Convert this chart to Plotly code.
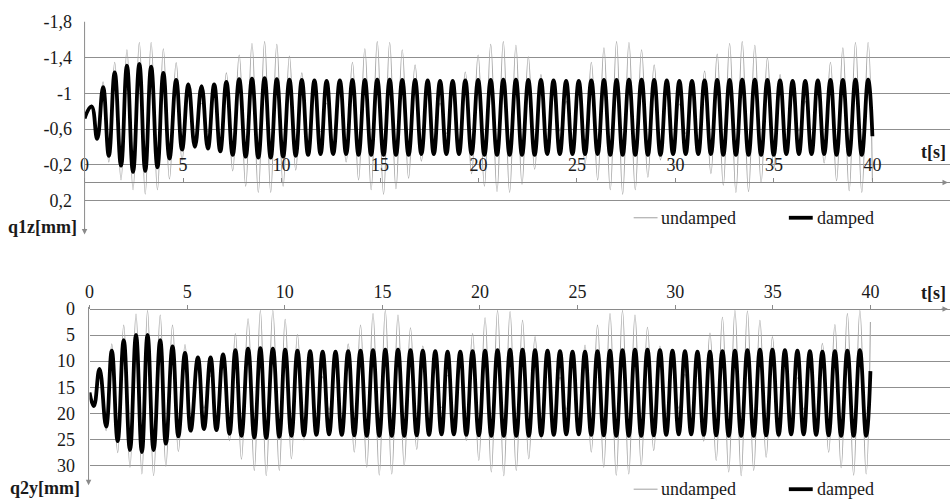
import plotly.graph_objects as go

W, H = 950, 499
SERIF = "Liberation Serif"

# ---------------------------------------------------------------------------
# q1z: turning points of the response (time [s], displacement [mm])
# ---------------------------------------------------------------------------
t_q1z = [
    0.00,
    0.35, 0.64, 0.94, 1.23, 1.53, 1.85, 2.15, 2.46, 2.78, 3.08,
    3.38, 3.70, 4.00, 4.31, 4.65, 4.95, 5.27, 5.60, 5.94, 6.26,
    6.58, 6.89, 7.20, 7.52, 7.85, 8.18, 8.50, 8.82, 9.14, 9.45,
    9.76, 10.08, 10.40, 10.72, 11.03, 11.35, 11.67, 11.98, 12.29, 12.62,
    12.96, 13.28, 13.60, 13.91, 14.23, 14.55, 14.86, 15.18, 15.49, 15.81,
    16.13, 16.45, 16.78, 17.10, 17.42, 17.73, 18.05, 18.37, 18.69, 19.01,
    19.33, 19.65, 19.98, 20.30, 20.62, 20.94, 21.26, 21.58, 21.90, 22.21,
    22.53, 22.85, 23.17, 23.49, 23.81, 24.13, 24.45, 24.77, 25.09, 25.41,
    25.73, 26.05, 26.37, 26.69, 27.01, 27.32, 27.64, 27.96, 28.28, 28.60,
    28.92, 29.24, 29.56, 29.88, 30.20, 30.52, 30.84, 31.16, 31.48, 31.80,
    32.12, 32.43, 32.75, 33.07, 33.39, 33.71, 34.03, 34.35, 34.67, 34.99,
    35.31, 35.63, 35.95, 36.27, 36.59, 36.91, 37.23, 37.55, 37.87, 38.18,
    38.50, 38.82, 39.14, 39.46,
    39.78, 40.00,
]

q1z_undamped = [
    -0.72,
    -0.86, -0.48, -1.13, -0.23, -1.35, -0.03, -1.49, 0.08, -1.57, 0.13,
    -1.57, 0.08, -1.50, -0.04, -1.345, -0.25, -1.12, -0.44, -0.89, -0.57,
    -1.015, -0.34, -1.23, -0.13, -1.43, 0.04, -1.56, 0.11, -1.58, 0.11,
    -1.55, 0.04, -1.42, -0.14, -1.23, -0.34, -1.01, -0.57, -0.89, -0.435,
    -1.13, -0.23, -1.35, -0.03, -1.50, 0.08, -1.58, 0.13, -1.57, 0.07,
    -1.49, -0.05, -1.32, -0.24, -1.11, -0.46, -0.89, -0.55, -1.03, -0.33,
    -1.24, -0.10, -1.43, 0.04, -1.55, 0.10, -1.58, 0.11, -1.54, 0.02,
    -1.41, -0.15, -1.21, -0.36, -0.98, -0.58, -0.91, -0.43, -1.13, -0.21,
    -1.35, -0.03, -1.51, 0.08, -1.58, 0.13, -1.57, 0.08, -1.49, -0.06,
    -1.32, -0.255, -1.10, -0.47, -0.88, -0.55, -1.03, -0.33, -1.25, -0.10,
    -1.44, 0.03, -1.56, 0.11, -1.58, 0.10, -1.54, 0.00, -1.40, -0.16,
    -1.21, -0.36, -0.98, -0.58, -0.91, -0.43, -1.14, -0.22, -1.35, -0.02,
    -1.51, 0.09, -1.57, 0.11,
    -1.57, -0.02,
]

q1z_damped = [
    -0.72,
    -0.855, -0.49, -1.07, -0.30, -1.235, -0.19, -1.31, -0.12, -1.33, -0.13,
    -1.30, -0.17, -1.23, -0.27, -1.15, -0.37, -1.10, -0.40, -1.08, -0.38,
    -1.10, -0.35, -1.13, -0.31, -1.16, -0.29, -1.165, -0.28, -1.17, -0.28,
    -1.16, -0.29, -1.155, -0.30, -1.15, -0.31, -1.145, -0.32, -1.14, -0.32,
    -1.145, -0.32, -1.15, -0.31, -1.15, -0.31, -1.155, -0.31, -1.155, -0.31,
    -1.15, -0.31, -1.15, -0.32, -1.145, -0.32, -1.14, -0.32, -1.14, -0.32,
    -1.145, -0.32, -1.15, -0.31, -1.15, -0.31, -1.155, -0.31, -1.155, -0.31,
    -1.15, -0.31, -1.15, -0.32, -1.145, -0.32, -1.14, -0.32, -1.14, -0.32,
    -1.145, -0.32, -1.15, -0.31, -1.15, -0.31, -1.155, -0.31, -1.155, -0.31,
    -1.15, -0.31, -1.145, -0.32, -1.14, -0.32, -1.14, -0.32, -1.145, -0.32,
    -1.15, -0.31, -1.15, -0.31, -1.155, -0.31, -1.155, -0.31, -1.15, -0.31,
    -1.145, -0.32, -1.14, -0.32, -1.14, -0.32, -1.145, -0.32, -1.15, -0.31,
    -1.15, -0.31, -1.155, -0.31,
    -1.155, -0.52,
]

# ---------------------------------------------------------------------------
# q2y: turning points of the response (time [s], displacement [mm])
# ---------------------------------------------------------------------------
t_q2y = [
    0.00,
    0.22, 0.51, 0.85, 1.14, 1.44, 1.75, 2.07, 2.38, 2.68, 2.97,
    3.28, 3.62, 3.91, 4.25, 4.55, 4.89, 5.18, 5.55, 5.86, 6.20,
    6.50, 6.84, 7.17, 7.47, 7.78, 8.12, 8.44, 8.75, 9.05, 9.39,
    9.72, 10.02, 10.34, 10.65, 10.98, 11.30, 11.62, 11.94, 12.27, 12.60,
    12.92, 13.25, 13.56, 13.88, 14.20, 14.52, 14.84, 15.15, 15.48, 15.80,
    16.12, 16.44, 16.76, 17.07, 17.39, 17.71, 18.03, 18.34, 18.66, 18.99,
    19.30, 19.62, 19.94, 20.26, 20.58, 20.90, 21.22, 21.54, 21.86, 22.18,
    22.50, 22.82, 23.14, 23.46, 23.78, 24.10, 24.42, 24.74, 25.06, 25.38,
    25.70, 26.02, 26.34, 26.66, 26.98, 27.30, 27.62, 27.94, 28.26, 28.58,
    28.90, 29.22, 29.54, 29.86, 30.18, 30.50, 30.82, 31.14, 31.46, 31.78,
    32.10, 32.42, 32.74, 33.06, 33.38, 33.70, 34.02, 34.34, 34.66, 34.98,
    35.30, 35.62, 35.94, 36.26, 36.58, 36.90, 37.22, 37.54, 37.86, 38.18,
    38.50, 38.82, 39.14, 39.46,
    39.78, 40.00,
]

q2y_undamped = [
    16.0,
    18.6, 11.3, 23.3, 6.7, 27.5, 3.1, 30.3, 1.0, 31.6, 0.3,
    31.9, 1.2, 30.1, 3.1, 27.3, 6.8, 23.5, 10.9, 19.0, 12.8,
    21.2, 8.6, 25.2, 4.7, 28.75, 1.9, 30.9, 0.3, 31.9, 0.3,
    30.9, 2.0, 28.7, 4.9, 25.1, 9.0, 20.9, 13.0, 19.3, 10.4,
    23.4, 6.7, 27.4, 3.1, 30.3, 0.9, 31.8, 0.3, 31.6, 1.2,
    30.0, 3.6, 26.9, 7.1, 22.9, 11.2, 18.9, 12.7, 21.6, 8.5,
    25.2, 4.7, 29.0, 1.7, 31.2, 0.3, 31.9, 0.5, 30.9, 2.2,
    28.7, 5.3, 24.8, 9.1, 20.7, 13.1, 19.2, 10.5, 23.3, 6.9,
    27.4, 3.1, 30.3, 0.9, 31.8, 0.3, 31.6, 1.2, 30.0, 3.5,
    27.1, 7.1, 23.0, 11.1, 19.0, 12.5, 21.8, 8.4, 25.3, 4.6,
    29.0, 1.6, 31.2, 0.3, 31.9, 0.4, 30.9, 2.2, 28.4, 5.3,
    24.7, 9.3, 20.6, 13.2, 19.2, 10.9, 23.2, 6.6, 27.4, 3.0,
    30.4, 0.9, 31.8, 0.3,
    31.6, 2.5,
]

q2y_damped = [
    16.0,
    18.6, 11.5, 22.5, 8.0, 25.3, 6.0, 27.0, 5.0, 27.4, 5.0,
    27.0, 6.0, 25.8, 7.2, 24.4, 8.4, 23.3, 9.3, 23.0, 9.3,
    23.2, 8.7, 23.9, 7.9, 24.3, 7.6, 24.6, 7.5, 24.7, 7.6,
    24.5, 7.8, 24.3, 8.0, 24.2, 8.1, 24.1, 8.2, 24.0, 8.2,
    24.1, 8.1, 24.2, 8.0, 24.3, 7.9, 24.3, 7.8, 24.3, 7.8,
    24.3, 7.9, 24.2, 8.0, 24.1, 8.1, 24.0, 8.2, 24.0, 8.2,
    24.1, 8.1, 24.2, 8.0, 24.3, 7.9, 24.3, 7.8, 24.3, 7.8,
    24.3, 7.9, 24.2, 8.0, 24.1, 8.1, 24.0, 8.2, 24.0, 8.2,
    24.1, 8.1, 24.2, 8.0, 24.3, 7.9, 24.3, 7.8, 24.3, 7.8,
    24.2, 7.9, 24.1, 8.0, 24.0, 8.1, 24.0, 8.2, 24.1, 8.2,
    24.2, 8.1, 24.3, 8.0, 24.3, 7.9, 24.3, 7.8, 24.2, 7.8,
    24.1, 7.9, 24.0, 8.0, 24.0, 8.1, 24.1, 8.2, 24.2, 8.1,
    24.3, 8.0, 24.3, 7.9,
    24.3, 11.9,
]

# axis ticks
t_ticks = [0, 5, 10, 15, 20, 25, 30, 35, 40]
q1z_ticks = [-1.8, -1.4, -1.0, -0.6, -0.2, 0.2]
q1z_ticktext = ["-1,8", "-1,4", "-1", "-0,6", "-0,2", "0,2"]
q2y_ticks = [0, 5, 10, 15, 20, 25, 30]

series_names = ["undamped", "damped"]

# ---------------------------------------------------------------------------
GRID = "#8f8f8f"
AXIS = "#8a8a8a"
GREY_LINE = "#a8a8a8"
TXT = "#1a1a1a"


def fx(px):
    return px / W


def fy(py):
    return 1 - py / H


fig = go.Figure()

for t, undamped, damped, xa, ya in [
    (t_q1z, q1z_undamped, q1z_damped, "x", "y"),
    (t_q2y, q2y_undamped, q2y_damped, "x2", "y2"),
]:
    fig.add_trace(go.Scatter(
        x=t, y=undamped, mode="lines", xaxis=xa, yaxis=ya,
        name=series_names[0],
        line=dict(color=GREY_LINE, width=1.1, shape="spline", smoothing=1.3),
        hoverinfo="skip"))
    fig.add_trace(go.Scatter(
        x=t, y=damped, mode="lines", xaxis=xa, yaxis=ya,
        name=series_names[1],
        line=dict(color="#000000", width=3.8, shape="spline", smoothing=1.3),
        hoverinfo="skip"))

tick_font = dict(family=SERIF, size=18, color=TXT)

# upper panel: q1z, x axis crossing at q1z = 0
x0_top, px_per_s_top = 80, 19.8
y_top_px, px_per_mm_top = 12.3, 91.0
q1z_lo = 0.4
fig.update_layout(
    xaxis=dict(
        domain=[fx(x0_top), 1], range=[0, (W - x0_top) / px_per_s_top],
        anchor="free", position=fy(176), side="top",
        showline=True, linecolor=AXIS, linewidth=1,
        ticks="outside", ticklen=4, tickcolor=AXIS,
        tickvals=t_ticks, tickfont=tick_font,
        showgrid=False, zeroline=False),
    yaxis=dict(
        domain=[fy(y_top_px + (q1z_lo + 1.8) * px_per_mm_top), fy(y_top_px)],
        range=[q1z_lo, -1.8], anchor="x",
        showline=False, zeroline=False,
        showgrid=True, gridcolor=GRID, gridwidth=1,
        tickvals=q1z_ticks, ticktext=q1z_ticktext, tickfont=tick_font,
        ticks="outside", ticklen=8, tickcolor="rgba(0,0,0,0)"),
)

# lower panel: q2y, x axis on top at q2y = 0
x0_bot, px_per_s_bot = 85, 19.625
y0_bot_px, px_per_mm_bot = 305, 5.333
q2y_lo = 33
fig.update_layout(
    xaxis2=dict(
        domain=[fx(x0_bot), 1], range=[0, (W - x0_bot) / px_per_s_bot],
        anchor="free", position=fy(y0_bot_px), side="top",
        showline=True, linecolor=AXIS, linewidth=1,
        ticks="outside", ticklen=4, tickcolor=AXIS,
        tickvals=t_ticks, tickfont=tick_font,
        showgrid=False, zeroline=False),
    yaxis2=dict(
        domain=[fy(y0_bot_px + q2y_lo * px_per_mm_bot), fy(y0_bot_px)],
        range=[q2y_lo, 0], anchor="x2",
        showline=False, zeroline=False,
        showgrid=True, gridcolor=GRID, gridwidth=1,
        tickvals=q2y_ticks, tickfont=tick_font,
        ticks="outside", ticklen=10, tickcolor="rgba(0,0,0,0)"),
)

shapes = []
annotations = []


def arrow(tip_x, tip_y, dx, dy):
    annotations.append(dict(
        x=fx(tip_x), y=fy(tip_y), xref="paper", yref="paper",
        ax=dx, ay=dy, axref="pixel", ayref="pixel",
        text="", showarrow=True, arrowhead=2, arrowsize=1.1,
        arrowwidth=1, arrowcolor=AXIS, standoff=0))


def vline(x, y0, y1):
    shapes.append(dict(type="line", xref="paper", yref="paper",
                       x0=fx(x), x1=fx(x), y0=fy(y0), y1=fy(y1),
                       line=dict(color=AXIS, width=1)))


def label(text, x, y, bold=False, xanchor="center"):
    annotations.append(dict(
        x=fx(x), y=fy(y), xref="paper", yref="paper", showarrow=False,
        text=f"<b>{text}</b>" if bold else text, xanchor=xanchor,
        yanchor="middle", font=dict(family=SERIF, size=18, color=TXT)))


def legend_row(y):
    shapes.append(dict(type="line", xref="paper", yref="paper",
                       x0=fx(632), x1=fx(656), y0=fy(y), y1=fy(y),
                       line=dict(color=GREY_LINE, width=1.1)))
    label(series_names[0], 657, y, xanchor="left")
    shapes.append(dict(type="line", xref="paper", yref="paper",
                       x0=fx(788), x1=fx(812), y0=fy(y), y1=fy(y),
                       line=dict(color="#000000", width=3.8)))
    label(series_names[1], 814, y, xanchor="left")


# upper panel decorations
vline(x0_top, 12, 224)
arrow(x0_top, 229, 0, -8)
arrow(948, 176, -8, 0)
label("t[s]", 933, 145, bold=True)
label("q1z[mm]", 38, 221, bold=True)
legend_row(212)

# lower panel decorations
vline(84, 303, 479)
arrow(84, 485, 0, -8)
arrow(948, 305, -8, 0)
label("t[s]", 933, 289, bold=True)
label("q2y[mm]", 40, 488, bold=True)
legend_row(489)

fig.update_layout(
    width=W, height=H, autosize=False,
    margin=dict(l=0, r=0, t=0, b=0, pad=0),
    paper_bgcolor="white", plot_bgcolor="white",
    showlegend=False,
    shapes=shapes, annotations=annotations,
    font=dict(family=SERIF, size=18, color=TXT),
)

# page without body margin so the figure sits flush in the window
fig.write_html(
    "out.html",
    config={"responsive": False, "displayModeBar": False},
    post_script="document.body.style.margin='0';"
                "document.body.style.overflow='hidden';",
)
